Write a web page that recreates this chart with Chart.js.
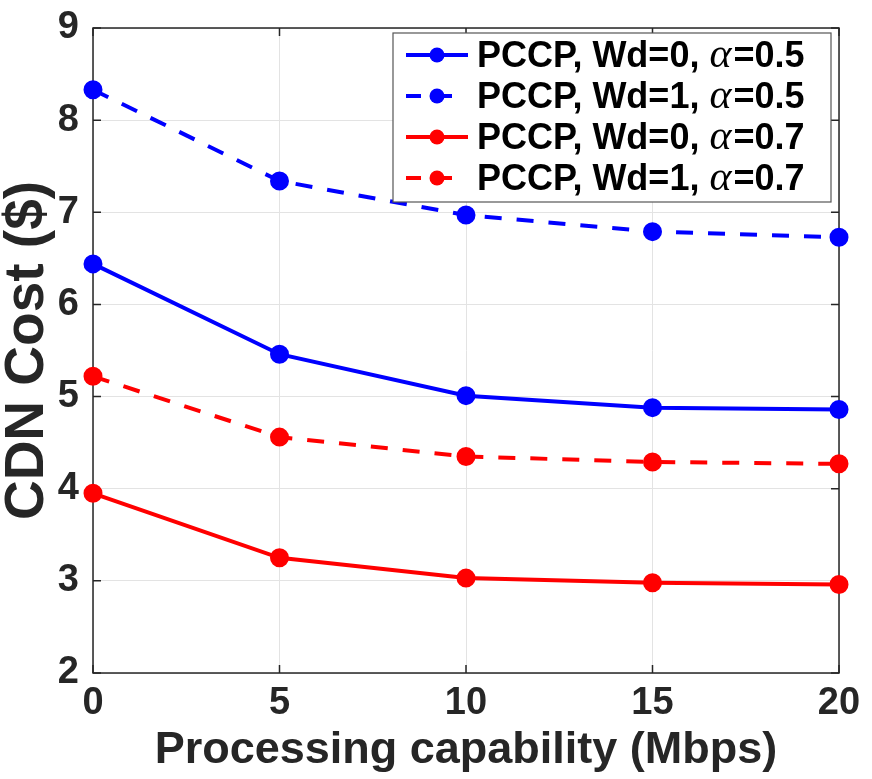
<!DOCTYPE html>
<html>
<head>
<meta charset="utf-8">
<script src="https://cdn.jsdelivr.net/npm/chart.js@4/dist/chart.umd.min.js"></script>
<style>
  html, body { margin: 0; padding: 0; background: #fff; }
  #wrap { width: 872px; height: 779px; }
</style>
</head>
<body>
<div id="wrap"><canvas id="myChart" width="872" height="779"></canvas></div>
<script>
// data
const capability = [0, 5, 10, 15, 20];
const wd0_a05 = [6.44, 5.46, 5.01, 4.88, 4.86];
const wd1_a05 = [8.33, 7.34, 6.97, 6.79, 6.73];
const wd0_a07 = [3.95, 3.25, 3.03, 2.98, 2.96];
const wd1_a07 = [5.22, 4.56, 4.35, 4.29, 4.27];
const xTicks = [0, 5, 10, 15, 20];
const yTicks = [2, 3, 4, 5, 6, 7, 8, 9];

const FONT = '"Liberation Sans", Arial, Helvetica, sans-serif';
const DASH = [17, 15];

function pts(vals) {
  return capability.map((x, i) => ({ x: x, y: vals[i] }));
}

function series(label, vals, color, dashed) {
  return {
    label: label,
    data: pts(vals),
    borderColor: color,
    backgroundColor: color,
    pointBackgroundColor: color,
    pointBorderColor: color,
    borderWidth: 4,
    borderDash: dashed ? DASH : [],
    pointRadius: 7.5,
    pointHoverRadius: 7.5,
    tension: 0,
    clip: false
  };
}

// box round the axes with inward tick marks
const axesBox = {
  id: 'axesBox',
  beforeDatasetsDraw(chart) {
    const { ctx, chartArea: a, scales } = chart;
    ctx.save();
    ctx.strokeStyle = '#262626';
    ctx.lineWidth = 1.5;
    ctx.strokeRect(a.left, a.top, a.right - a.left, a.bottom - a.top);
    ctx.beginPath();
    xTicks.forEach(v => {
      const px = scales.x.getPixelForValue(v);
      ctx.moveTo(px, a.bottom); ctx.lineTo(px, a.bottom - 8);
      ctx.moveTo(px, a.top); ctx.lineTo(px, a.top + 8);
    });
    yTicks.forEach(v => {
      const py = scales.y.getPixelForValue(v);
      ctx.moveTo(a.left, py); ctx.lineTo(a.left + 8, py);
      ctx.moveTo(a.right, py); ctx.lineTo(a.right - 8, py);
    });
    ctx.stroke();
    ctx.restore();
  }
};

// legend with a math-style alpha
const mathLegend = {
  id: 'mathLegend',
  afterDraw(chart) {
    const { ctx } = chart;
    const bx = 393, by = 33, bw = 438, bh = 169;
    ctx.save();
    ctx.fillStyle = '#fff';
    ctx.fillRect(bx, by, bw, bh);
    ctx.strokeStyle = '#555';
    ctx.lineWidth = 1.2;
    ctx.strokeRect(bx, by, bw, bh);
    chart.data.datasets.forEach((ds, i) => {
      const cy = 55 + i * 41;
      ctx.strokeStyle = ds.borderColor;
      ctx.lineWidth = 4;
      ctx.setLineDash(ds.borderDash.length ? [15, 16] : []);
      ctx.beginPath();
      ctx.moveTo(406, cy); ctx.lineTo(468, cy);
      ctx.stroke();
      ctx.setLineDash([]);
      ctx.fillStyle = ds.borderColor;
      ctx.beginPath();
      ctx.arc(437, cy, 7.5, 0, Math.PI * 2);
      ctx.fill();

      const parts = ds.label.split('α');
      let x = 477;
      ctx.fillStyle = '#000';
      ctx.textBaseline = 'alphabetic';
      ctx.font = 'bold 36px ' + FONT;
      ctx.fillText(parts[0], x, cy + 12);
      x += ctx.measureText(parts[0]).width;
      ctx.font = 'italic 42px "Liberation Serif", "DejaVu Serif", serif';
      ctx.fillText('α', x, cy + 12);
      x += ctx.measureText('α').width + 2;
      ctx.font = 'bold 36px ' + FONT;
      ctx.fillText(parts[1], x, cy + 12);
    });
    ctx.restore();
  }
};

const ctx = document.getElementById('myChart').getContext('2d');

const myChart = new Chart(ctx, {
  type: 'line',
  data: {
    datasets: [
      series('PCCP, Wd=0, α=0.5', wd0_a05, '#0000ff', false),
      series('PCCP, Wd=1, α=0.5', wd1_a05, '#0000ff', true),
      series('PCCP, Wd=0, α=0.7', wd0_a07, '#ff0000', false),
      series('PCCP, Wd=1, α=0.7', wd1_a07, '#ff0000', true)
    ]
  },
  options: {
    responsive: false,
    animation: false,
    layout: { padding: { top: 28, right: 33, left: 0, bottom: 0 } },
    plugins: {
      legend: { display: false },
      tooltip: { enabled: false }
    },
    scales: {
      x: {
        type: 'linear',
        min: 0,
        max: 20,
        afterFit(scale) { scale.height = 106; },
        afterBuildTicks(scale) { scale.ticks = xTicks.map(v => ({ value: v })); },
        grid: { color: '#e3e3e3', lineWidth: 1, drawTicks: false },
        border: { display: false },
        ticks: {
          padding: 8,
          color: '#262626',
          font: { family: FONT, size: 38, weight: 'bold' }
        },
        title: {
          display: true,
          text: 'Processing capability (Mbps)',
          color: '#262626',
          padding: { top: 0, bottom: 6 },
          font: { family: FONT, size: 45, weight: 'bold', lineHeight: 1 }
        }
      },
      y: {
        min: 2,
        max: 9,
        afterFit(scale) {
          scale.width = 93;
          scale.paddingTop = 0;
          scale.paddingBottom = 0;
        },
        afterBuildTicks(scale) { scale.ticks = yTicks.map(v => ({ value: v })); },
        grid: { color: '#e3e3e3', lineWidth: 1, drawTicks: false },
        border: { display: false },
        ticks: {
          padding: 14,
          color: '#262626',
          font: { family: FONT, size: 38, weight: 'bold' }
        },
        title: {
          display: true,
          text: 'CDN Cost ($)',
          color: '#262626',
          padding: 0,
          font: { family: FONT, size: 55, weight: 'bold', lineHeight: 1 }
        }
      }
    }
  },
  plugins: [axesBox, mathLegend]
});
</script>
</body>
</html>
